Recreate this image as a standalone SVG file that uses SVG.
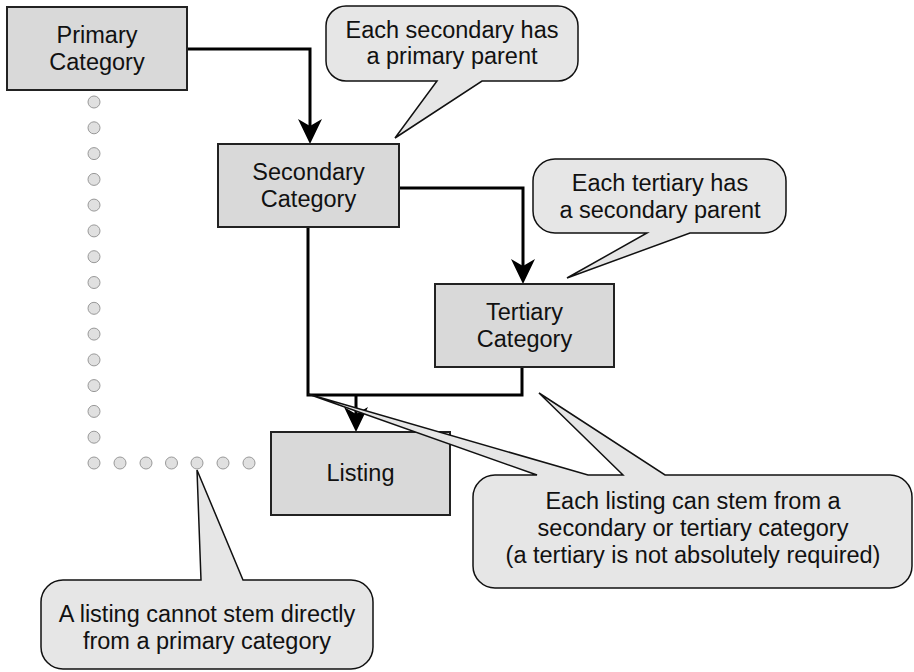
<svg xmlns="http://www.w3.org/2000/svg" width="914" height="672" viewBox="0 0 914 672">
<style>
  .box { fill: #d9d9d9; stroke: #222; stroke-width: 2; }
  .call { fill: #e6e6e6; stroke: #111; stroke-width: 1.5; stroke-linejoin: miter; }
  .txt { font-family: "Liberation Sans", Arial, sans-serif; font-size: 23.5px; fill: #111; text-anchor: middle; }
  .conn { fill: none; stroke: #000; stroke-width: 3; }
  .dot { fill: #e0e0e0; stroke: #999; stroke-width: 1; }
</style>
<defs>
  <marker id="arr" viewBox="-26 -13 28 26" refX="-18" refY="0" markerWidth="28" markerHeight="26" markerUnits="userSpaceOnUse" orient="auto">
    <path d="M0,0 L-25,-12 L-18,0 L-25,12 Z" fill="#000"/>
  </marker>
</defs>
<rect width="914" height="672" fill="#fff"/>

<g id="dots">
  <circle class="dot" cx="94" cy="102" r="6"/>
  <circle class="dot" cx="94" cy="127.8" r="6"/>
  <circle class="dot" cx="94" cy="153.6" r="6"/>
  <circle class="dot" cx="94" cy="179.4" r="6"/>
  <circle class="dot" cx="94" cy="205.1" r="6"/>
  <circle class="dot" cx="94" cy="230.9" r="6"/>
  <circle class="dot" cx="94" cy="256.7" r="6"/>
  <circle class="dot" cx="94" cy="282.5" r="6"/>
  <circle class="dot" cx="94" cy="308.3" r="6"/>
  <circle class="dot" cx="94" cy="334.1" r="6"/>
  <circle class="dot" cx="94" cy="359.9" r="6"/>
  <circle class="dot" cx="94" cy="385.6" r="6"/>
  <circle class="dot" cx="94" cy="411.4" r="6"/>
  <circle class="dot" cx="94" cy="437.2" r="6"/>
  <circle class="dot" cx="94" cy="463" r="6"/>
  <circle class="dot" cx="120" cy="463" r="6"/>
  <circle class="dot" cx="146" cy="463" r="6"/>
  <circle class="dot" cx="171.5" cy="463" r="6"/>
  <circle class="dot" cx="197" cy="463" r="6"/>
  <circle class="dot" cx="223" cy="463" r="6"/>
  <circle class="dot" cx="249" cy="463" r="6"/>
</g>

<g id="connectors">
  <path class="conn" d="M187,49 H310 V126" marker-end="url(#arr)"/>
  <path class="conn" d="M399,188 H523 V266" marker-end="url(#arr)"/>
  <path class="conn" d="M308,227 V395 H522 V367"/>
  <path class="conn" d="M356,395 V414" marker-end="url(#arr)"/>
</g>

<g id="primary">
  <rect class="box" x="7" y="7" width="180" height="83"/>
  <text class="txt" x="97" y="43">Primary</text>
  <text class="txt" x="97" y="70">Category</text>
</g>
<g id="secondary">
  <rect class="box" x="218" y="144" width="181" height="83"/>
  <text class="txt" x="308.5" y="180">Secondary</text>
  <text class="txt" x="308.5" y="207">Category</text>
</g>
<g id="tertiary">
  <rect class="box" x="435" y="284" width="179" height="83"/>
  <text class="txt" x="524.5" y="320">Tertiary</text>
  <text class="txt" x="524.5" y="347">Category</text>
</g>
<g id="listing">
  <rect class="box" x="271" y="432" width="179" height="83"/>
  <text class="txt" x="360.5" y="481">Listing</text>
</g>

<g id="callout-secondary">
  <path class="call" d="M346,6 H558 A20,20 0 0 1 578,26 V61 A20,20 0 0 1 558,81 H482 L395,138 L437,81 H346 A20,20 0 0 1 326,61 V26 A20,20 0 0 1 346,6 Z"/>
  <text class="txt" x="452" y="38">Each secondary has</text>
  <text class="txt" x="452" y="64">a primary parent</text>
</g>
<g id="callout-tertiary">
  <path class="call" d="M555,159 H764 A22,22 0 0 1 786,181 V211 A22,22 0 0 1 764,233 H690 L567,278 L647,233 H555 A22,22 0 0 1 533,211 V181 A22,22 0 0 1 555,159 Z"/>
  <text class="txt" x="660" y="191">Each tertiary has</text>
  <text class="txt" x="660" y="218">a secondary parent</text>
</g>
<g id="callout-listing">
  <path class="call" d="M495,475 H537 L308,394 L588,475 H623 L539,393 L665,475 H890 A22,22 0 0 1 912,497 V566 A22,22 0 0 1 890,588 H495 A22,22 0 0 1 473,566 V497 A22,22 0 0 1 495,475 Z"/>
  <text class="txt" x="693" y="509">Each listing can stem from a</text>
  <text class="txt" x="693" y="536">secondary or tertiary category</text>
  <text class="txt" x="693" y="563">(a tertiary is not absolutely required)</text>
</g>
<g id="callout-primary">
  <path class="call" d="M63,580 H201 L197,470 L243,580 H351 A22,22 0 0 1 373,602 V647 A22,22 0 0 1 351,669 H63 A22,22 0 0 1 41,647 V602 A22,22 0 0 1 63,580 Z"/>
  <text class="txt" x="207" y="622">A listing cannot stem directly</text>
  <text class="txt" x="207" y="649">from a primary category</text>
</g>
</svg>
